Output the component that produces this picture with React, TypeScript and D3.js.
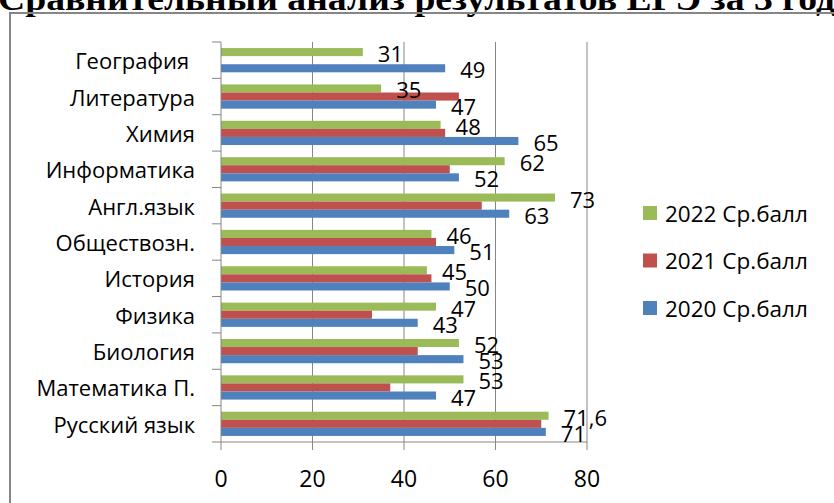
import * as d3 from 'd3';

const categories = [
  'География ',
  'Литература',
  'Химия',
  'Информатика',
  'Англ.язык',
  'Обществозн.',
  'История',
  'Физика',
  'Биология',
  'Математика П.',
  'Русский язык',
];

// values listed in the same order as categories (top to bottom)
const scores2022 = [31, 35, 48, 62, 73, 46, 45, 47, 52, 53, 71.6];
const scores2021: (number | null)[] = [null, 52, 49, 50, 57, 47, 46, 33, 43, 37, 70];
const scores2020 = [49, 47, 65, 52, 63, 51, 50, 43, 53, 47, 71];

const labels2022 = ['31', '35', '48', '62', '73', '46', '45', '47', '52', '53', '71,6'];
const labels2020 = ['49', '47', '65', '52', '63', '51', '50', '43', '53', '47', '71'];

const xTicks = [0, 20, 40, 60, 80];

const seriesNames = ['2022 Ср.балл', '2021 Ср.балл', '2020 Ср.балл'];
const seriesColors = ['#9BBB59', '#C0504D', '#4F81BD'];

const W = 834;
const H = 503;
const FONT = "'Open Sans', sans-serif";

export default function App() {
  const x = d3.scaleLinear().domain([0, 80]).range([221, 587]);
  const y = d3
    .scaleBand<string>()
    .domain(categories)
    .range([42, 442])
    .paddingInner(1 / 3)
    .paddingOuter(1 / 6);
  const inner = d3.scaleBand<string>().domain(seriesNames).range([0, y.bandwidth()]);

  const series = [
    { name: seriesNames[0], values: scores2022 as (number | null)[], labels: labels2022 },
    { name: seriesNames[1], values: scores2021, labels: null as string[] | null },
    { name: seriesNames[2], values: scores2020 as (number | null)[], labels: labels2020 },
  ];

  const step = y.step();
  const boundaries = d3.range(categories.length + 1).map((i) => 42 + i * step);

  return (
    <svg
      width={W}
      height={H}
      style={{ position: 'absolute', left: 0, top: 0, background: '#fff' }}
    >
      <text
        x={-2}
        y={10}
        fontFamily="'Liberation Serif', 'Times New Roman', serif"
        fontWeight="bold"
        fontSize={33}
        textLength={856}
        lengthAdjust="spacingAndGlyphs"
        fill="#000"
      >
        Сравнительный анализ результатов ЕГЭ за 3 года
      </text>

      {/* chart frame */}
      <path d={`M10,${H + 2} V13 H${W + 2}`} fill="none" stroke="#868686" strokeWidth={2} />

      {/* vertical gridlines */}
      {xTicks.filter((t) => t > 0).map((t) => (
        <line key={t} x1={x(t)} x2={x(t)} y1={42} y2={442} stroke="#868686" strokeWidth={1} />
      ))}

      {/* bars */}
      {series.map((s, si) => (
        <g key={s.name}>
          {categories.map((c, i) => {
            const v = s.values[i];
            if (v == null) return null;
            return (
              <rect
                key={c}
                x={x(0)}
                y={(y(c) ?? 0) + (inner(s.name) ?? 0)}
                width={x(v) - x(0)}
                height={inner.bandwidth()}
                fill={seriesColors[si]}
              />
            );
          })}
        </g>
      ))}

      {/* y axis */}
      <line x1={221} x2={221} y1={42} y2={442} stroke="#868686" />
      {boundaries.map((b, i) => (
        <line key={i} x1={212} x2={221} y1={b} y2={b} stroke="#868686" />
      ))}
      {categories.map((c) => (
        <text
          key={c}
          x={195}
          y={(y(c) ?? 0) + y.bandwidth() / 2}
          textAnchor="end"
          dominantBaseline="central"
          fontFamily={FONT}
          fontSize={22}
          fill="#000"
          style={{ whiteSpace: 'pre' }}
        >
          {c}
        </text>
      ))}

      {/* x axis */}
      <line x1={x(0)} x2={x(80)} y1={442} y2={442} stroke="#868686" />
      {xTicks.map((t) => (
        <g key={t}>
          <line x1={x(t)} x2={x(t)} y1={442} y2={450} stroke="#868686" />
          <text
            x={x(t)}
            y={478}
            textAnchor="middle"
            dominantBaseline="central"
            fontFamily={FONT}
            fontSize={23}
            fill="#000"
          >
            {t}
          </text>
        </g>
      ))}

      {/* data labels */}
      {series.map((s) =>
        s.labels
          ? categories.map((c, i) => {
              const v = s.values[i];
              if (v == null) return null;
              return (
                <text
                  key={s.name + c}
                  x={x(v) + 15}
                  y={(y(c) ?? 0) + (inner(s.name) ?? 0) + inner.bandwidth() / 2 + 1}
                  dominantBaseline="central"
                  fontFamily={FONT}
                  fontSize={22}
                  fill="#000"
                >
                  {s.labels![i]}
                </text>
              );
            })
          : null
      )}

      {/* legend */}
      {seriesNames.map((n, i) => (
        <g key={n} transform={`translate(643, ${213 + i * 47.5})`}>
          <rect x={0} y={-7} width={14} height={14} fill={seriesColors[i]} />
          <text x={22} y={0} dominantBaseline="central" fontFamily={FONT} fontSize={22.5} fill="#000">
            {n}
          </text>
        </g>
      ))}
    </svg>
  );
}
